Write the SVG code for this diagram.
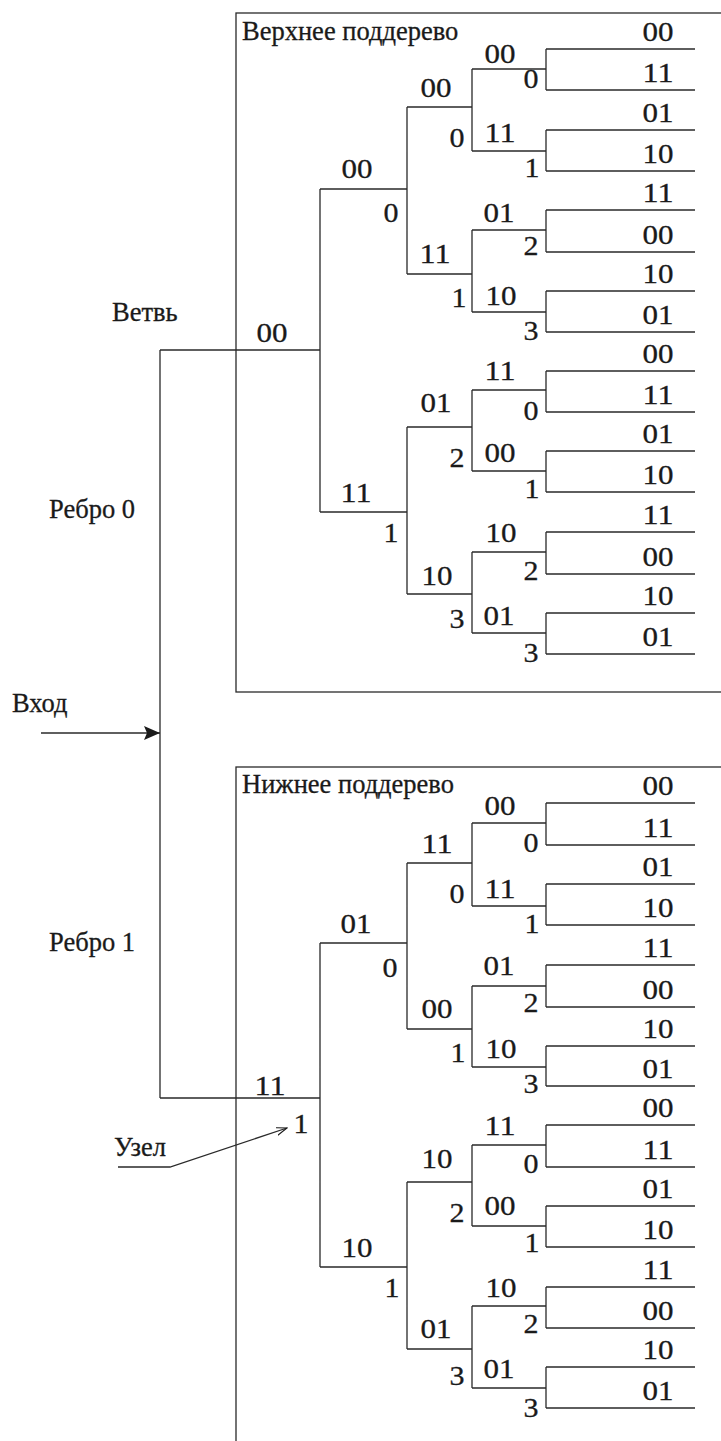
<svg xmlns="http://www.w3.org/2000/svg" width="721" height="1441" viewBox="0 0 721 1441">
<style>
.ln{fill:none;stroke:#2a2a2a;stroke-width:1.3}
text{font-family:'Liberation Serif','Times New Roman',serif;fill:#1a1a1a;stroke:#1a1a1a;stroke-width:0.3}
.t{font-size:26.5px}
.d{font-size:28px;text-anchor:middle}
</style>
<defs>
<marker id="fill-arrow" markerUnits="userSpaceOnUse" markerWidth="17" markerHeight="15" refX="16" refY="7" orient="auto">
<path d="M0,0 L16,7 L0,14 L3,7 z" fill="#1a1a1a"/>
</marker>
<marker id="open-arrow" markerUnits="userSpaceOnUse" markerWidth="12" markerHeight="10" refX="11" refY="4" orient="auto">
<path d="M0,0 L11,4 L0,8" fill="none" stroke="#1a1a1a" stroke-width="1.1"/>
</marker>
</defs>
<rect width="721" height="1441" fill="#ffffff"/>

<g id="upper-subtree">
<rect class="ln" x="236" y="13" width="500" height="679"/>
<text class="t" x="242" y="40">Верхнее поддерево</text>
</g>
<g id="lower-subtree">
<rect class="ln" x="236" y="767" width="500" height="700"/>
<text class="t" x="242" y="793">Нижнее поддерево</text>
</g>

<g id="connectors">
<path class="ln" d="M160 350 V1098 M160 350 H320 M160 1098 H320"/>
<path class="ln" d="M41 733 H160" marker-end="url(#fill-arrow)"/>
<path class="ln" d="M118 1167 H170 L287 1128" marker-end="url(#open-arrow)"/>
<path class="ln" d="M320 189 V512 M320 189 H407 M320 512 H407
M407 107 V274 M407 427 V594
M407 107 H472 M407 274 H472 M407 427 H472 M407 594 H472
M472 69 V151 M472 230 V312 M472 390 V471 M472 552 V633
M472 69 H546 M472 151 H546 M472 230 H546 M472 312 H546 M472 390 H546 M472 471 H546 M472 552 H546 M472 633 H546
M546 49 V90 M546 130 V171 M546 210 V252 M546 291 V332 M546 371 V412 M546 451 V492 M546 532 V574 M546 613 V654
M546 49 H695 M546 90 H695 M546 130 H695 M546 171 H695 M546 210 H695 M546 252 H695 M546 291 H695 M546 332 H695
M546 371 H695 M546 412 H695 M546 451 H695 M546 492 H695 M546 532 H695 M546 574 H695 M546 613 H695 M546 654 H695"/>
<path class="ln" d="M320 943 V1267 M320 943 H407 M320 1267 H407
M407 863 V1029 M407 1182 V1349
M407 863 H472 M407 1029 H472 M407 1182 H472 M407 1349 H472
M472 823 V906 M472 986 V1067 M472 1145 V1226 M472 1306 V1388
M472 823 H546 M472 906 H546 M472 986 H546 M472 1067 H546 M472 1145 H546 M472 1226 H546 M472 1306 H546 M472 1388 H546
M546 803 V845 M546 884 V925 M546 965 V1007 M546 1046 V1086 M546 1125 V1167 M546 1206 V1247 M546 1287 V1328 M546 1367 V1408
M546 803 H695 M546 845 H695 M546 884 H695 M546 925 H695 M546 965 H695 M546 1007 H695 M546 1046 H695 M546 1086 H695
M546 1125 H695 M546 1167 H695 M546 1206 H695 M546 1247 H695 M546 1287 H695 M546 1328 H695 M546 1367 H695 M546 1408 H695"/>
</g>

<g id="side-labels">
<text class="t" x="112" y="321">Ветвь</text>
<text class="t" x="49" y="518">Ребро 0</text>
<text class="t" x="49" y="951">Ребро 1</text>
<text class="t" x="12" y="712">Вход</text>
<text class="t" x="114" y="1156">Узел</text>
</g>

<g id="upper-labels">
<text class="d" x="272" y="342" textLength="31" lengthAdjust="spacingAndGlyphs">00</text>
<text class="d" x="357" y="178" textLength="31" lengthAdjust="spacingAndGlyphs">00</text>
<text class="d" x="391" y="222" textLength="15" lengthAdjust="spacingAndGlyphs">0</text>
<text class="d" x="356" y="502" textLength="31" lengthAdjust="spacingAndGlyphs">11</text>
<text class="d" x="391" y="542" textLength="15" lengthAdjust="spacingAndGlyphs">1</text>
<text class="d" x="436" y="97" textLength="31" lengthAdjust="spacingAndGlyphs">00</text>
<text class="d" x="457" y="147" textLength="15" lengthAdjust="spacingAndGlyphs">0</text>
<text class="d" x="435" y="263" textLength="31" lengthAdjust="spacingAndGlyphs">11</text>
<text class="d" x="459" y="307" textLength="15" lengthAdjust="spacingAndGlyphs">1</text>
<text class="d" x="436" y="412" textLength="31" lengthAdjust="spacingAndGlyphs">01</text>
<text class="d" x="457" y="467" textLength="15" lengthAdjust="spacingAndGlyphs">2</text>
<text class="d" x="437" y="585" textLength="31" lengthAdjust="spacingAndGlyphs">10</text>
<text class="d" x="457" y="628" textLength="15" lengthAdjust="spacingAndGlyphs">3</text>
<text class="d" x="500" y="63" textLength="31" lengthAdjust="spacingAndGlyphs">00</text>
<text class="d" x="531" y="88" textLength="15" lengthAdjust="spacingAndGlyphs">0</text>
<text class="d" x="500" y="142" textLength="31" lengthAdjust="spacingAndGlyphs">11</text>
<text class="d" x="532" y="177" textLength="15" lengthAdjust="spacingAndGlyphs">1</text>
<text class="d" x="499" y="222" textLength="31" lengthAdjust="spacingAndGlyphs">01</text>
<text class="d" x="531" y="255" textLength="15" lengthAdjust="spacingAndGlyphs">2</text>
<text class="d" x="501" y="305" textLength="31" lengthAdjust="spacingAndGlyphs">10</text>
<text class="d" x="531" y="340" textLength="15" lengthAdjust="spacingAndGlyphs">3</text>
<text class="d" x="500" y="380" textLength="31" lengthAdjust="spacingAndGlyphs">11</text>
<text class="d" x="531" y="420" textLength="15" lengthAdjust="spacingAndGlyphs">0</text>
<text class="d" x="500" y="462" textLength="31" lengthAdjust="spacingAndGlyphs">00</text>
<text class="d" x="532" y="498" textLength="15" lengthAdjust="spacingAndGlyphs">1</text>
<text class="d" x="501" y="542" textLength="31" lengthAdjust="spacingAndGlyphs">10</text>
<text class="d" x="531" y="580" textLength="15" lengthAdjust="spacingAndGlyphs">2</text>
<text class="d" x="499" y="625" textLength="31" lengthAdjust="spacingAndGlyphs">01</text>
<text class="d" x="531" y="662" textLength="15" lengthAdjust="spacingAndGlyphs">3</text>
<text class="d" x="658" y="41" textLength="31" lengthAdjust="spacingAndGlyphs">00</text>
<text class="d" x="658" y="82" textLength="31" lengthAdjust="spacingAndGlyphs">11</text>
<text class="d" x="658" y="122" textLength="31" lengthAdjust="spacingAndGlyphs">01</text>
<text class="d" x="658" y="163" textLength="31" lengthAdjust="spacingAndGlyphs">10</text>
<text class="d" x="658" y="202" textLength="31" lengthAdjust="spacingAndGlyphs">11</text>
<text class="d" x="658" y="244" textLength="31" lengthAdjust="spacingAndGlyphs">00</text>
<text class="d" x="658" y="283" textLength="31" lengthAdjust="spacingAndGlyphs">10</text>
<text class="d" x="658" y="324" textLength="31" lengthAdjust="spacingAndGlyphs">01</text>
<text class="d" x="658" y="363" textLength="31" lengthAdjust="spacingAndGlyphs">00</text>
<text class="d" x="658" y="404" textLength="31" lengthAdjust="spacingAndGlyphs">11</text>
<text class="d" x="658" y="443" textLength="31" lengthAdjust="spacingAndGlyphs">01</text>
<text class="d" x="658" y="484" textLength="31" lengthAdjust="spacingAndGlyphs">10</text>
<text class="d" x="658" y="524" textLength="31" lengthAdjust="spacingAndGlyphs">11</text>
<text class="d" x="658" y="566" textLength="31" lengthAdjust="spacingAndGlyphs">00</text>
<text class="d" x="658" y="605" textLength="31" lengthAdjust="spacingAndGlyphs">10</text>
<text class="d" x="658" y="646" textLength="31" lengthAdjust="spacingAndGlyphs">01</text>
</g>

<g id="lower-labels">
<text class="d" x="270" y="1095" textLength="31" lengthAdjust="spacingAndGlyphs">11</text>
<text class="d" x="301" y="1133" textLength="15" lengthAdjust="spacingAndGlyphs">1</text>
<text class="d" x="356" y="933" textLength="31" lengthAdjust="spacingAndGlyphs">01</text>
<text class="d" x="390" y="977" textLength="15" lengthAdjust="spacingAndGlyphs">0</text>
<text class="d" x="357" y="1257" textLength="31" lengthAdjust="spacingAndGlyphs">10</text>
<text class="d" x="392" y="1297" textLength="15" lengthAdjust="spacingAndGlyphs">1</text>
<text class="d" x="437" y="853" textLength="31" lengthAdjust="spacingAndGlyphs">11</text>
<text class="d" x="457" y="903" textLength="15" lengthAdjust="spacingAndGlyphs">0</text>
<text class="d" x="437" y="1018" textLength="31" lengthAdjust="spacingAndGlyphs">00</text>
<text class="d" x="458" y="1062" textLength="15" lengthAdjust="spacingAndGlyphs">1</text>
<text class="d" x="437" y="1168" textLength="31" lengthAdjust="spacingAndGlyphs">10</text>
<text class="d" x="457" y="1222" textLength="15" lengthAdjust="spacingAndGlyphs">2</text>
<text class="d" x="436" y="1338" textLength="31" lengthAdjust="spacingAndGlyphs">01</text>
<text class="d" x="457" y="1385" textLength="15" lengthAdjust="spacingAndGlyphs">3</text>
<text class="d" x="500" y="815" textLength="31" lengthAdjust="spacingAndGlyphs">00</text>
<text class="d" x="531" y="852" textLength="15" lengthAdjust="spacingAndGlyphs">0</text>
<text class="d" x="500" y="898" textLength="31" lengthAdjust="spacingAndGlyphs">11</text>
<text class="d" x="532" y="933" textLength="15" lengthAdjust="spacingAndGlyphs">1</text>
<text class="d" x="499" y="975" textLength="31" lengthAdjust="spacingAndGlyphs">01</text>
<text class="d" x="531" y="1012" textLength="15" lengthAdjust="spacingAndGlyphs">2</text>
<text class="d" x="501" y="1058" textLength="31" lengthAdjust="spacingAndGlyphs">10</text>
<text class="d" x="531" y="1093" textLength="15" lengthAdjust="spacingAndGlyphs">3</text>
<text class="d" x="500" y="1135" textLength="31" lengthAdjust="spacingAndGlyphs">11</text>
<text class="d" x="531" y="1173" textLength="15" lengthAdjust="spacingAndGlyphs">0</text>
<text class="d" x="500" y="1215" textLength="31" lengthAdjust="spacingAndGlyphs">00</text>
<text class="d" x="532" y="1252" textLength="15" lengthAdjust="spacingAndGlyphs">1</text>
<text class="d" x="501" y="1297" textLength="31" lengthAdjust="spacingAndGlyphs">10</text>
<text class="d" x="531" y="1333" textLength="15" lengthAdjust="spacingAndGlyphs">2</text>
<text class="d" x="499" y="1378" textLength="31" lengthAdjust="spacingAndGlyphs">01</text>
<text class="d" x="531" y="1417" textLength="15" lengthAdjust="spacingAndGlyphs">3</text>
<text class="d" x="658" y="795" textLength="31" lengthAdjust="spacingAndGlyphs">00</text>
<text class="d" x="658" y="837" textLength="31" lengthAdjust="spacingAndGlyphs">11</text>
<text class="d" x="658" y="876" textLength="31" lengthAdjust="spacingAndGlyphs">01</text>
<text class="d" x="658" y="917" textLength="31" lengthAdjust="spacingAndGlyphs">10</text>
<text class="d" x="658" y="957" textLength="31" lengthAdjust="spacingAndGlyphs">11</text>
<text class="d" x="658" y="999" textLength="31" lengthAdjust="spacingAndGlyphs">00</text>
<text class="d" x="658" y="1038" textLength="31" lengthAdjust="spacingAndGlyphs">10</text>
<text class="d" x="658" y="1078" textLength="31" lengthAdjust="spacingAndGlyphs">01</text>
<text class="d" x="658" y="1117" textLength="31" lengthAdjust="spacingAndGlyphs">00</text>
<text class="d" x="658" y="1159" textLength="31" lengthAdjust="spacingAndGlyphs">11</text>
<text class="d" x="658" y="1198" textLength="31" lengthAdjust="spacingAndGlyphs">01</text>
<text class="d" x="658" y="1239" textLength="31" lengthAdjust="spacingAndGlyphs">10</text>
<text class="d" x="658" y="1279" textLength="31" lengthAdjust="spacingAndGlyphs">11</text>
<text class="d" x="658" y="1320" textLength="31" lengthAdjust="spacingAndGlyphs">00</text>
<text class="d" x="658" y="1359" textLength="31" lengthAdjust="spacingAndGlyphs">10</text>
<text class="d" x="658" y="1400" textLength="31" lengthAdjust="spacingAndGlyphs">01</text>
</g>
</svg>
